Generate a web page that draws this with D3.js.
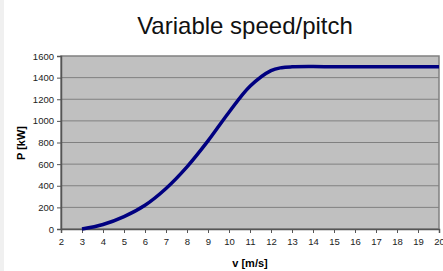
<!DOCTYPE html>
<html>
<head>
<meta charset="utf-8">
<script src="https://cdn.jsdelivr.net/npm/d3@7"></script>
<style>
  html, body { margin: 0; padding: 0; background: #fff; }
  body { width: 443px; height: 271px; overflow: hidden; }
</style>
</head>
<body>
<div id="chart"></div>
<script>
(function () {
  // wind speed [m/s] and power [kW]
  const speed = [3, 4, 5, 6, 7, 8, 9, 10, 11, 12, 12.5, 13, 14, 15, 16, 17, 18, 19, 20];
  const power = [0, 42, 115, 220, 375, 575, 815, 1080, 1320, 1465, 1492, 1500, 1502, 1500, 1500, 1500, 1500, 1500, 1500];
  const xTicks = d3.range(2, 21);
  const yTicks = d3.range(0, 1601, 200);

  const width = 443, height = 271;
  const left = 61, right = 439, top = 56, bottom = 229;

  const svg = d3.select("#chart").append("svg")
    .attr("width", width)
    .attr("height", height)
    .style("font-family", "Liberation Sans, Arial, sans-serif");

  svg.append("rect")
    .attr("width", 4).attr("height", height)
    .attr("fill", "#f0f0f0");

  const x = d3.scaleLinear().domain([2, 20]).range([left, right]);
  const y = d3.scaleLinear().domain([0, 1600]).range([bottom, top]);

  svg.append("rect")
    .attr("x", left).attr("y", top)
    .attr("width", right - left).attr("height", bottom - top)
    .attr("fill", "#c0c0c0")
    .attr("stroke", "#808080")
    .attr("stroke-width", 1.5);

  // gridlines
  svg.append("g")
    .selectAll("line")
    .data(yTicks.slice(1, -1))
    .enter()
    .append("line")
    .attr("x1", left).attr("x2", right)
    .attr("y1", d => y(d)).attr("y2", d => y(d))
    .attr("stroke", "#808080")
    .attr("stroke-width", 1);

  const yAxis = svg.append("g")
    .attr("transform", `translate(${left},0)`)
    .call(d3.axisLeft(y).tickValues(yTicks).tickFormat(d3.format("d")).tickSize(4).tickPadding(3));
  const xAxis = svg.append("g")
    .attr("transform", `translate(0,${bottom})`)
    .call(d3.axisBottom(x).tickValues(xTicks).tickFormat(d3.format("d")).tickSize(4).tickPadding(5));

  [xAxis, yAxis].forEach(a => {
    a.select(".domain").attr("stroke", "#555").attr("stroke-width", 1.5);
    a.selectAll(".tick line").attr("stroke", "#555");
    a.selectAll("text")
      .style("font-size", "9.5px")
      .style("font-family", "Liberation Sans, Arial, sans-serif")
      .attr("fill", "#222");
  });

  const line = d3.line()
    .x((d, i) => x(speed[i]))
    .y(d => y(d))
    .curve(d3.curveCatmullRom.alpha(0.5));

  svg.append("path")
    .datum(power)
    .attr("fill", "none")
    .attr("stroke", "#000080")
    .attr("stroke-width", 3.5)
    .attr("stroke-linejoin", "round")
    .attr("d", line);

  svg.append("text")
    .attr("x", 245).attr("y", 34)
    .attr("text-anchor", "middle")
    .style("font-size", "24px")
    .attr("fill", "#111")
    .text("Variable speed/pitch");

  svg.append("text")
    .attr("x", 250).attr("y", 267)
    .attr("text-anchor", "middle")
    .style("font-size", "11px")
    .style("font-weight", "bold")
    .text("v [m/s]");

  svg.append("text")
    .attr("transform", "translate(25,143) rotate(-90)")
    .attr("text-anchor", "middle")
    .style("font-size", "11px")
    .style("font-weight", "bold")
    .text("P [kW]");
})();
</script>
</body>
</html>
